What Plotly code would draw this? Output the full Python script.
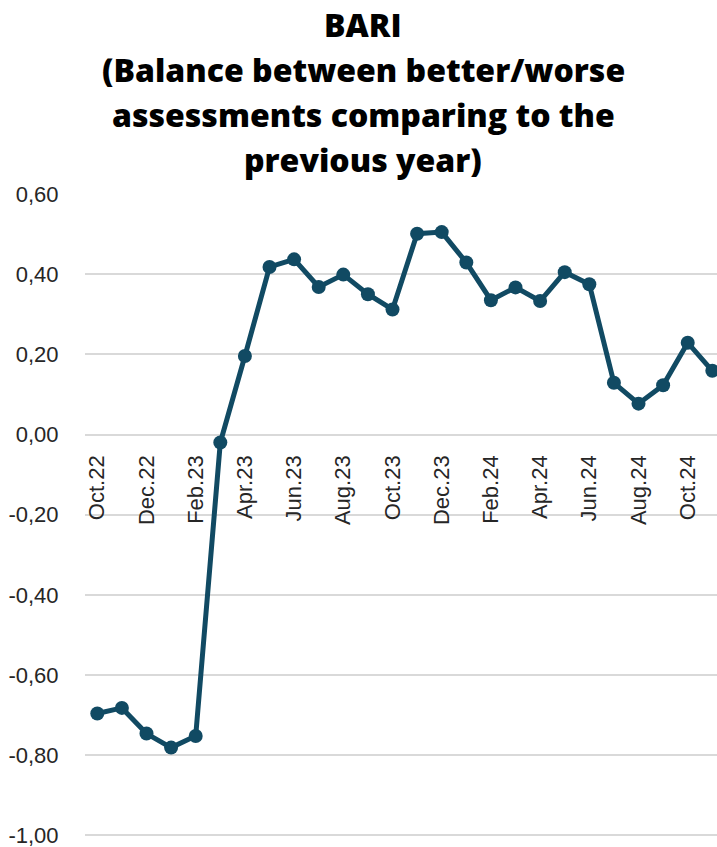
import plotly.graph_objects as go

# Monthly BARI balance values, Oct 2022 - Nov 2024
months = [
    "Oct.22", "Nov.22", "Dec.22", "Jan.23", "Feb.23", "Mar.23", "Apr.23",
    "May.23", "Jun.23", "Jul.23", "Aug.23", "Sep.23", "Oct.23", "Nov.23",
    "Dec.23", "Jan.24", "Feb.24", "Mar.24", "Apr.24", "May.24", "Jun.24",
    "Jul.24", "Aug.24", "Sep.24", "Oct.24", "Nov.24",
]
bari = [
    -0.696, -0.682, -0.746, -0.781, -0.752, -0.020, 0.196,
    0.418, 0.437, 0.368, 0.399, 0.350, 0.312, 0.501,
    0.505, 0.429, 0.335, 0.367, 0.333, 0.405, 0.375,
    0.129, 0.077, 0.123, 0.229, 0.159,
]
y_ticks = [0.6, 0.4, 0.2, 0.0, -0.2, -0.4, -0.6, -0.8, -1.0]
y_tick_text = ["0,60", "0,40", "0,20", "0,00", "-0,20", "-0,40", "-0,60", "-0,80", "-1,00"]
x_shown = months[::2]

title_lines = [
    "BARI",
    "(Balance between better/worse",
    "assessments comparing to the",
    "previous year)",
]

line_color = "#114A63"
grid_color = "#D9D9D9"
text_color = "#262626"

fig = go.Figure()
fig.add_trace(go.Scatter(
    x=list(range(len(months))),
    y=bari,
    mode="lines+markers",
    line=dict(color=line_color, width=5),
    marker=dict(color=line_color, size=14),
    cliponaxis=False,
    hoverinfo="skip",
))

y_min, y_max = -1.004, 0.6
zero_pos = (0 - y_min) / (y_max - y_min)

# title, one annotation per line for even spacing
title_centers = [24, 70, 114, 159]
annotations = [
    dict(
        text=t,
        xref="paper", yref="paper",
        x=(363 - 85) / 632, y=1 + (194 - yc) / 643,
        xanchor="center", yanchor="middle",
        showarrow=False,
        font=dict(family="Open Sans, sans-serif", size=32, weight=800,
                  color="#000000"),
    )
    for t, yc in zip(title_lines, title_centers)
]

fig.update_layout(
    width=717, height=847,
    margin=dict(l=85, r=0, t=194, b=10),
    paper_bgcolor="white",
    plot_bgcolor="white",
    showlegend=False,
    font=dict(family="Liberation Sans, Arial, sans-serif", color=text_color),
    xaxis=dict(
        range=[-0.5, 25.19],
        tickmode="array",
        tickvals=[months.index(m) for m in x_shown],
        ticktext=x_shown,
        tickangle=-90,
        tickfont=dict(size=22, color=text_color),
        showgrid=False,
        zeroline=False,
        showline=False,
        anchor="free",
        position=zero_pos,
        ticks="outside",
        ticklen=11,
        tickcolor="rgba(0,0,0,0)",
        ticklabeloverflow="allow",
    ),
    yaxis=dict(
        range=[y_min, y_max],
        tickmode="array",
        tickvals=y_ticks,
        ticktext=y_tick_text,
        tickfont=dict(size=22, color=text_color),
        showgrid=True,
        gridcolor=grid_color,
        gridwidth=1.5,
        zeroline=False,
        showline=False,
        ticks="outside",
        ticklen=21,
        tickcolor="rgba(0,0,0,0)",
        ticklabeloverflow="allow",
    ),
    annotations=annotations,
)

fig.write_html("out.html")
